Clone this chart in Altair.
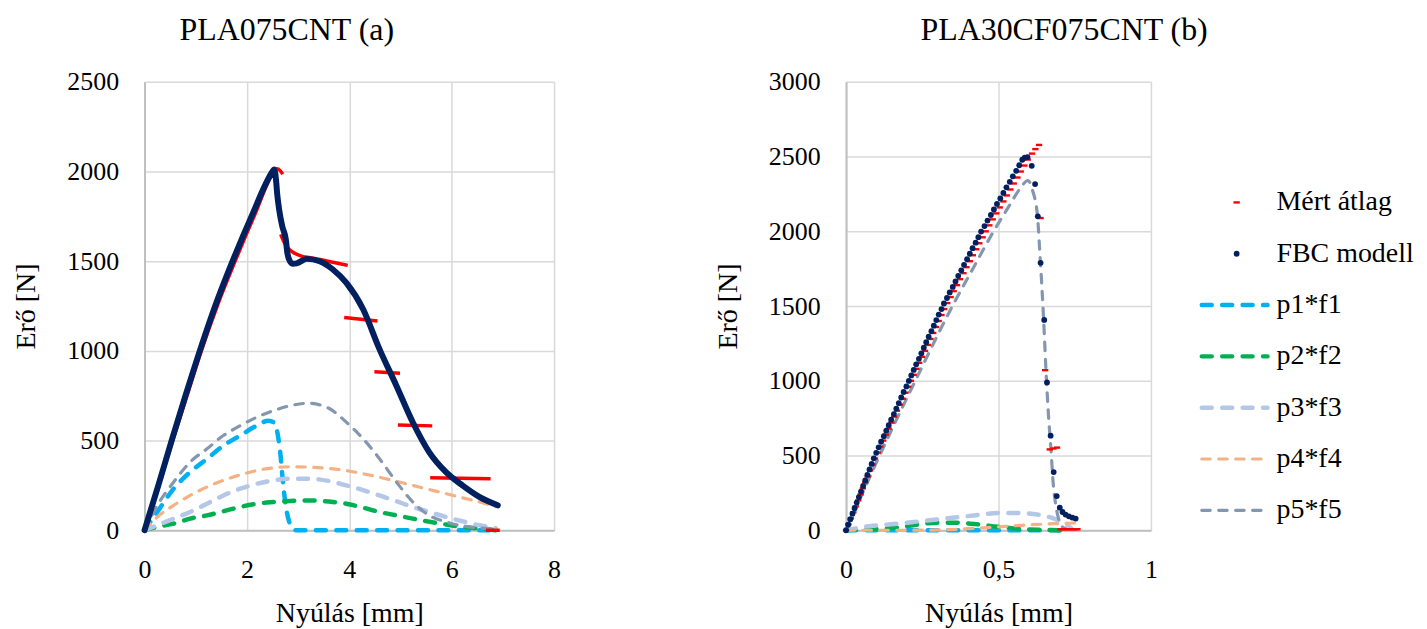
import altair as alt
import pandas as pd

FONT = "Liberation Serif"
RED = "#FF0000"
NAVY = "#002060"
C1, C2, C3, C4, C5 = "#00B0F0", "#00B050", "#B4C7E7", "#F4B183", "#8497B0"

# ---------------- panel (a) PLA075CNT ----------------
A_meas_x = [0, 0.28, 0.55, 0.83, 1.11, 1.42, 1.77, 2.14, 2.53, 2.58, 2.65, 2.70,
            2.66, 2.72, 2.80, 2.90, 3.05, 3.23, 3.50, 3.75, 3.97,
            3.90, 4.55,
            4.49, 4.99,
            4.95, 5.62,
            5.58, 6.76,
            6.67, 6.94]
A_meas_y = [0, 250, 500, 750, 1000, 1250, 1500, 1750, 2000, 2015, 2005, 1985,
            1650, 1610, 1575, 1550, 1530, 1520, 1505, 1490, 1477,
            1186, 1167,
            884, 875,
            587, 582,
            293, 287,
            0, 0]
A_meas_seg = ["a"] * 12 + ["b"] * 9 + ["c"] * 2 + ["d"] * 2 + ["e"] * 2 + ["f"] * 2 + ["g"] * 2

A_fbc_x = [0, 0.27, 0.53, 0.80, 1.08, 1.38, 1.72, 2.09, 2.50, 2.53, 2.57, 2.59, 2.63,
           2.69, 2.76, 2.79, 2.84, 2.90, 2.97, 3.17, 3.42, 3.68, 3.94, 4.27, 4.59,
           4.92, 5.24, 5.56, 5.89, 6.21, 6.54, 6.90]
A_fbc_y = [0, 250, 500, 750, 1000, 1250, 1500, 1750, 2000, 2012, 1950, 1880, 1788,
           1695, 1621, 1547, 1500, 1486, 1488, 1513, 1500, 1454, 1380, 1232, 1010,
           806, 602, 436, 324, 250, 186, 139]

A_p1_x = [0, 0.25, 0.57, 0.89, 1.22, 1.54, 1.87, 2.19, 2.42, 2.52, 2.58, 2.65, 2.71,
          2.78, 2.87, 2.95, 4.0, 5.0, 6.0, 6.87]
A_p1_y = [0, 102, 232, 324, 398, 472, 528, 583, 611, 602, 565, 436, 250,
          102, 19, 0, 0, 0, 0, 0]

A_px = [0, 0.25, 0.57, 0.89, 1.22, 1.54, 1.87, 2.19, 2.52, 2.84, 3.2, 3.6, 3.94,
        4.27, 4.59, 4.92, 5.24, 5.56, 5.89, 6.21, 6.54, 6.86]
A_p2_y = [0, 19, 37, 65, 83, 106, 130, 148, 157, 163, 166, 160, 148,
          126, 102, 83, 65, 48, 32, 18, 9, 0]
A_p3_y = [0, 28, 65, 102, 148, 194, 232, 259, 278, 287, 287, 275, 250,
          224, 194, 162, 130, 102, 74, 50, 28, 13]
A_p4_y = [0, 74, 139, 194, 241, 278, 309, 333, 348, 354, 352, 345, 333,
          315, 296, 273, 250, 227, 204, 181, 158, 131]
A_p5_y = [0, 139, 269, 380, 454, 528, 583, 630, 667, 694, 708, 680, 603,
          510, 399, 269, 158, 83, 47, 24, 13, 9]

# ---------------- panel (b) PLA30CF075CNT ----------------
B_meas_x = [0.000, 0.008, 0.016, 0.024, 0.032, 0.040, 0.048, 0.055, 0.063, 0.071,
            0.079, 0.087, 0.095, 0.104, 0.113, 0.122, 0.131, 0.140, 0.149, 0.158,
            0.167, 0.177, 0.186, 0.195, 0.204, 0.213, 0.222, 0.231, 0.240, 0.249,
            0.259, 0.268, 0.277, 0.286, 0.295, 0.304, 0.313, 0.322, 0.332, 0.343,
            0.353, 0.364, 0.374, 0.385, 0.395, 0.406, 0.416, 0.427, 0.437, 0.448,
            0.458, 0.470, 0.481, 0.493, 0.504, 0.516, 0.527, 0.539, 0.550, 0.562,
            0.573, 0.585, 0.596, 0.610, 0.621, 0.633,
            0.638, 0.653, 0.668, 0.680, 0.692,
            0.704, 0.712, 0.720, 0.728, 0.736, 0.744, 0.752, 0.759]
B_meas_y = [0, 40, 80, 120, 160, 200, 240, 280, 320, 360,
            400, 440, 480, 520, 560, 600, 640, 680, 720, 760,
            800, 840, 880, 920, 960, 1000, 1040, 1080, 1120, 1160,
            1200, 1240, 1280, 1320, 1360, 1400, 1440, 1480, 1520, 1560,
            1600, 1640, 1680, 1720, 1760, 1800, 1840, 1880, 1920, 1960,
            2000, 2040, 2080, 2120, 2160, 2200, 2240, 2280, 2320, 2360,
            2400, 2440, 2480, 2520, 2550, 2578,
            2089, 1071, 541, 547, 553,
            7, 7, 7, 7, 7, 7, 7, 7]

B_fbc_x = [0.000, 0.007, 0.014, 0.021, 0.028, 0.035, 0.042, 0.049, 0.056, 0.063,
           0.070, 0.077, 0.084, 0.091, 0.099, 0.107, 0.115, 0.124, 0.132, 0.140,
           0.148, 0.157, 0.165, 0.173, 0.181, 0.189, 0.198, 0.206, 0.214, 0.222,
           0.230, 0.239, 0.247, 0.255, 0.263, 0.271, 0.280, 0.288, 0.296, 0.304,
           0.313, 0.321, 0.331, 0.340, 0.350, 0.359, 0.368, 0.378, 0.387, 0.397,
           0.406, 0.415, 0.425, 0.434, 0.443, 0.454, 0.464, 0.475, 0.485, 0.495,
           0.506, 0.516, 0.526, 0.537, 0.547, 0.558, 0.568, 0.578, 0.586, 0.595,
           0.609, 0.620, 0.629, 0.638, 0.650, 0.659, 0.671, 0.681, 0.691, 0.701,
           0.710, 0.720, 0.731, 0.742, 0.753]
B_fbc_y = [0, 37, 74, 111, 148, 185, 222, 259, 296, 333,
           370, 407, 444, 481, 518, 555, 592, 629, 666, 703,
           740, 777, 814, 851, 888, 925, 962, 999, 1036, 1073,
           1110, 1147, 1184, 1221, 1258, 1295, 1332, 1369, 1406, 1443,
           1480, 1517, 1554, 1591, 1628, 1665, 1702, 1739, 1776, 1813,
           1850, 1887, 1924, 1961, 1998, 2035, 2072, 2109, 2146, 2183,
           2220, 2257, 2294, 2331, 2368, 2405, 2442, 2479, 2492, 2496,
           2438, 2316, 2100, 1789, 1407, 989, 633, 389, 229, 151,
           122, 105, 93, 85, 78]

B_p1_x = [0, 0.30, 0.50, 0.72]
B_p1_y = [0, 0, 0, 0]
B_p2_x = [0, 0.082, 0.158, 0.235, 0.300, 0.355, 0.420, 0.497, 0.573, 0.650, 0.720]
B_p2_y = [0, 7, 16, 38, 51, 51, 42, 24, 9, 2, 0]
B_p3_x = [0, 0.082, 0.147, 0.224, 0.300, 0.377, 0.442, 0.508, 0.562, 0.628, 0.682, 0.726, 0.740]
B_p3_y = [0, 29, 40, 56, 73, 89, 105, 116, 116, 105, 78, 33, 10]
B_p4_x = [0, 0.15, 0.30, 0.38, 0.464, 0.573, 0.682, 0.759]
B_p4_y = [0, 0, 2, 8, 18, 33, 44, 49]
B_p5_x = [0, 0.110, 0.227, 0.349, 0.416, 0.484, 0.535, 0.568, 0.597, 0.611, 0.628,
          0.635, 0.644, 0.650, 0.655, 0.664, 0.672, 0.679, 0.688, 0.697, 0.705, 0.720]
B_p5_y = [0, 500, 1000, 1500, 1750, 2000, 2170, 2278, 2340, 2278, 2100,
          1878, 1567, 1323, 1100, 767, 545, 323, 167, 78, 33, 10]

LEGEND = ["Mért átlag", "FBC modell", "p1*f1", "p2*f2", "p3*f3", "p4*f4", "p5*f5"]

# ---------------- helpers ----------------
def table(x, y, **extra):
    d = pd.DataFrame({"x": x, "y": y, **extra})
    d["i"] = range(len(d))
    return d


def encodings(xdom, ydom, xvals, yvals, xexpr):
    X = alt.X("x:Q", scale=alt.Scale(domain=xdom, nice=False, zero=False),
              axis=alt.Axis(values=xvals, title="Nyúlás [mm]", labelExpr=xexpr, labelFlush=False))
    Y = alt.Y("y:Q", scale=alt.Scale(domain=ydom, nice=False, zero=False),
              axis=alt.Axis(values=yvals, title="Erő [N]", format="d", labelFlush=False))
    return X, Y


THICK = dict(strokeWidth=4.5, strokeDash=[10, 10.5], strokeCap="round")
THIN = dict(strokeWidth=3.2, strokeDash=[8.5, 8.5], strokeCap="round")
STYLES = [(C1, THICK), (C2, THICK), (C3, THICK), (C4, THIN), (C5, THIN)]
DASH_SHAPE = "M-1,-0.38L1,-0.38L1,0.38L-1,0.38Z"
LABEL_EXPR = "replace(format(datum.value, '~g'), '.', ',')"


def dashed(d, color, style, X, Y):
    return alt.Chart(d).mark_line(color=color, interpolate="monotone", **style).encode(
        x=X, y=Y, order="i:Q")


# ---------------- panel (a) ----------------
XA, YA = encodings([0, 8], [0, 2500], [0, 2, 4, 6, 8], [0, 500, 1000, 1500, 2000, 2500], LABEL_EXPR)
a_layers = []
a_comp = [(A_p1_x, A_p1_y), (A_px, A_p2_y), (A_px, A_p3_y), (A_px, A_p4_y), (A_px, A_p5_y)]
for (cx, cy), (col, st) in zip(a_comp, STYLES):
    a_layers.append(dashed(table(cx, cy), col, st, XA, YA))
a_layers.append(
    alt.Chart(table(A_meas_x, A_meas_y, seg=A_meas_seg))
    .mark_line(color=RED, strokeWidth=3.5, interpolate="monotone")
    .encode(x=XA, y=YA, detail="seg:N", order="i:Q")
)
a_layers.append(
    alt.Chart(table(A_fbc_x, A_fbc_y))
    .mark_line(color=NAVY, strokeWidth=6, strokeJoin="round", strokeCap="round", interpolate="monotone")
    .encode(x=XA, y=YA, order="i:Q")
)
chart_a = alt.layer(*a_layers).properties(
    width=411, height=450,
    title=alt.TitleParams("PLA075CNT (a)", font=FONT, fontSize=32, fontWeight="normal",
                          color="black", anchor="middle", frame="bounds", offset=22),
)

# ---------------- panel (b) ----------------
XB, YB = encodings([0, 1], [0, 3000], [0, 0.5, 1], [0, 500, 1000, 1500, 2000, 2500, 3000], LABEL_EXPR)
b_layers = []
b_comp = [(B_p1_x, B_p1_y), (B_p2_x, B_p2_y), (B_p3_x, B_p3_y), (B_p4_x, B_p4_y), (B_p5_x, B_p5_y)]
for (cx, cy), (col, st) in zip(b_comp, STYLES):
    b_layers.append(dashed(table(cx, cy), col, st, XB, YB))
b_layers.append(
    alt.Chart(table(B_meas_x, B_meas_y))
    .mark_point(shape=DASH_SHAPE, filled=True, size=40, color=RED, opacity=1, strokeWidth=0)
    .encode(x=XB, y=YB)
)
b_layers.append(
    alt.Chart(table(B_fbc_x, B_fbc_y))
    .mark_circle(size=34, color=NAVY, opacity=1)
    .encode(x=XB, y=YB)
)

# legend, drawn to the right of panel (b)
one = pd.DataFrame({"k": [0]})
ROW0, ROWSTEP = 121, 51.5
LX_TEXT, LX0, LX1, LX_MARK = 432, 357, 423, 392
for k, name in enumerate(LEGEND):
    ry = ROW0 + k * ROWSTEP
    if k == 0:
        b_layers.append(alt.Chart(one).mark_point(shape=DASH_SHAPE, filled=True, size=40, color=RED,
                                                  opacity=1, strokeWidth=0)
                        .encode(x=alt.value(LX_MARK), y=alt.value(ry)))
    elif k == 1:
        b_layers.append(alt.Chart(one).mark_circle(size=34, color=NAVY, opacity=1)
                        .encode(x=alt.value(LX_MARK), y=alt.value(ry)))
    else:
        col, st = STYLES[k - 2]
        b_layers.append(alt.Chart(one).mark_rule(color=col, **st)
                        .encode(x=alt.value(LX0), x2=alt.value(LX1), y=alt.value(ry)))
    b_layers.append(alt.Chart(one).mark_text(text=name, align="left", baseline="middle", font=FONT,
                                             fontSize=28, color="black")
                    .encode(x=alt.value(LX_TEXT), y=alt.value(ry)))

chart_b = alt.layer(*b_layers).properties(
    width=306, height=450,
    title=alt.TitleParams("PLA30CF075CNT (b)", font=FONT, fontSize=32, fontWeight="normal",
                          color="black", anchor="middle", frame="bounds", offset=22),
)

chart = (
    alt.hconcat(chart_a, chart_b, spacing=154)
    .configure_view(stroke=None)
    .configure_axis(
        labelFont=FONT, labelFontSize=26, labelColor="black", labelPadding=26,
        titleFont=FONT, titleFontSize=28, titleFontWeight="normal", titleColor="black",
        grid=True, gridColor="#D9D9D9", gridWidth=1.5,
        domainColor="#BFBFBF", domainWidth=2, ticks=False,
    )
    .configure_axisX(titlePadding=18)
    .configure_axisY(titlePadding=26)
)

chart.save("out.html", embed_options={"renderer": "svg", "actions": False})
